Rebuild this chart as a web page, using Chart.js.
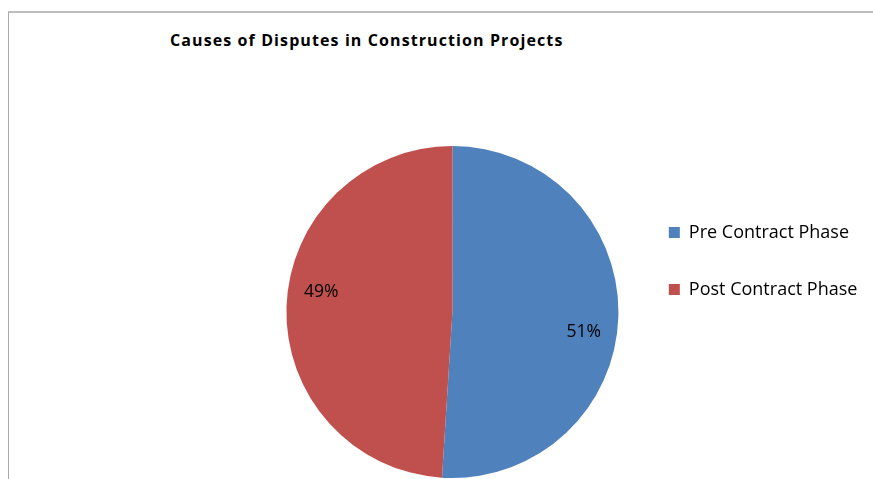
<!DOCTYPE html>
<html>
<head>
<meta charset="utf-8">
<script src="https://cdn.jsdelivr.net/npm/chart.js@4/dist/chart.umd.min.js"></script>
<style>
  html, body { margin: 0; padding: 0; background: #fff; overflow: hidden; width: 873px; height: 479px; }
  #frame { position: absolute; left: 8px; top: 11px; width: 900px; height: 500px;
           border-top: 2px solid #bdbdbd; border-left: 1px solid #a8a8a8; }
  #title { position: absolute; left: 170px; top: 29px; font: bold 16px "Open Sans", sans-serif;
           letter-spacing: 1.1px; color: #000; white-space: nowrap; }
  #pie { position: absolute; left: 0; top: 0; }
</style>
</head>
<body>
<div id="frame"></div>
<div id="title">Causes of Disputes in Construction Projects</div>
<canvas id="pie" width="900" height="479"></canvas>
<script>
// Define the data
var labels = ["Pre Contract Phase", "Post Contract Phase"];
var shares = [51, 49]; // percent
var colors = ["#4F81BD", "#C0504D"];
// End Defining data

// write the percentage inside each slice
var sliceLabels = {
  id: 'sliceLabels',
  afterDatasetsDraw: function(chart) {
    var ctx = chart.ctx;
    var meta = chart.getDatasetMeta(0);
    ctx.save();
    ctx.font = '17.5px "Open Sans", sans-serif';
    ctx.fillStyle = '#000';
    ctx.textAlign = 'center';
    ctx.textBaseline = 'middle';
    meta.data.forEach(function(arc, i) {
      var p = arc.getProps(['x', 'y', 'startAngle', 'endAngle', 'outerRadius'], true);
      var mid = (p.startAngle + p.endAngle) / 2 + 0.12;
      var r = p.outerRadius * 0.8;
      ctx.fillText(shares[i] + '%', p.x + Math.cos(mid) * r, p.y + Math.sin(mid) * r);
    });
    ctx.restore();
  }
};

var ctx = document.getElementById("pie").getContext('2d');
var pieChart = new Chart(ctx, {
  type: 'pie',
  data: {
    labels: labels,
    datasets: [{
      data: shares,
      backgroundColor: colors,
      borderWidth: 0
    }]
  },
  options: {
    responsive: false,
    devicePixelRatio: 1,
    animation: false,
    layout: { padding: { left: 275, right: 32.6, top: 146, bottom: 1 } },
    plugins: {
      legend: {
        position: 'right',
        align: 'start',
        title: { display: true, text: '', padding: 12, font: { size: 12 } },
        labels: {
          boxWidth: 11,
          boxHeight: 11,
          padding: 39,
          color: '#000',
          font: { family: '"Open Sans", sans-serif', size: 18 }
        }
      },
      tooltip: { enabled: false },
      title: { display: false }
    }
  },
  plugins: [sliceLabels]
});
</script>
</body>
</html>
